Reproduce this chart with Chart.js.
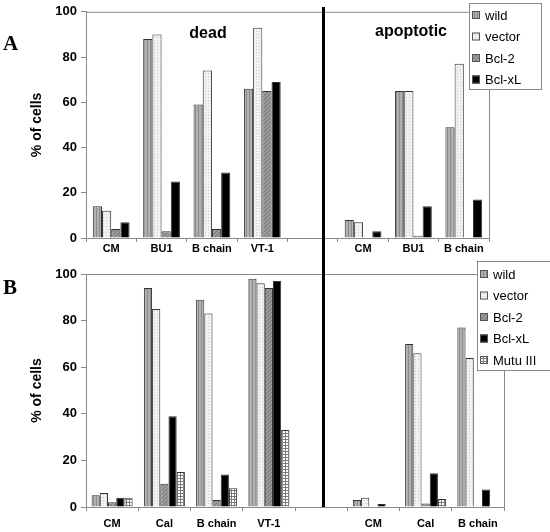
<!DOCTYPE html>
<html>
<head>
<meta charset="utf-8">
<script src="https://cdn.jsdelivr.net/npm/chart.js@4.4.1/dist/chart.umd.min.js"></script>
<style>
body { margin: 0; background: #fff; width: 550px; height: 532px; overflow: hidden; position: relative; }
#panelA { position: absolute; left: 0; top: 0; }
#panelB { position: absolute; left: 0; top: 256px; }
</style>
</head>
<body>
<canvas id="panelA" width="550" height="256"></canvas>
<canvas id="panelB" width="550" height="276"></canvas>
<script>
// Panel A: categorias (dead | hueco | apoptotic)
const categoriasA = ['CM', 'BU1', 'B chain', 'VT-1', '', 'CM', 'BU1', 'B chain'];
const deadWildA   = [14, 88, 59, 66];
const deadVectorA = [12, 90, 74, 93];
const deadBcl2A   = [4, 3, 4, 65];
const deadBclxlA  = [7, 25, 29, 69];
const apopWildA   = [8, 65, 49];
const apopVectorA = [7, 65, 77];
const apopBcl2A   = [0, 1, 0];
const apopBclxlA  = [3, 14, 17];

// Panel B
const categoriasB = ['CM', 'Cal', 'B chain', 'VT-1', '', 'CM', 'Cal', 'B chain'];
const deadWildB   = [5, 94, 89, 98];
const deadVectorB = [6, 85, 83, 96];
const deadBcl2B   = [2, 10, 3, 94];
const deadBclxlB  = [4, 39, 14, 97];
const deadMutuB   = [4, 15, 8, 33];
const apopWildB   = [3, 70, 77];
const apopVectorB = [4, 66, 64];
const apopBcl2B   = [0, 1.5, 0];
const apopBclxlB  = [1.3, 14.5, 7.5];
const apopMutuB   = [0, 3.4, 0];

const yTicks = [0, 20, 40, 60, 80, 100];

// patrones de relleno tipo escaneo
function patron(tam, fondo, dibujar) {
    const c = document.createElement('canvas');
    c.width = tam; c.height = tam;
    const g = c.getContext('2d');
    g.fillStyle = fondo;
    g.fillRect(0, 0, tam, tam);
    dibujar(g);
    return g.createPattern(c, 'repeat');
}
const pWild = patron(3, '#b0b0b0', g => { g.fillStyle = '#8c8c8c'; g.fillRect(0, 0, 1, 3); });
const pVector = patron(3, '#f2f2f2', g => { g.fillStyle = '#cacaca'; g.fillRect(1, 1, 1, 1); });
const pBcl2 = patron(4, '#9a9a9a', g => {
    g.fillStyle = '#747474';
    for (let i = 0; i < 4; i++) g.fillRect(i, 3 - i, 1, 1);
});
const pBclxl = '#000';
const pMutu = patron(3, '#fff', g => { g.fillStyle = '#7a7a7a'; g.fillRect(0, 0, 3, 1); g.fillRect(0, 0, 1, 3); });

function unir(dead, apop) {
    return [...dead, null, ...apop];
}

function serie(label, dead, apop, fill) {
    return {
        label: label,
        data: unir(dead, apop),
        backgroundColor: fill,
        borderColor: '#333',
        borderWidth: 1,
        barPercentage: 1
    };
}

const datosA = [
    serie('wild', deadWildA, apopWildA, pWild),
    serie('vector', deadVectorA, apopVectorA, pVector),
    serie('Bcl-2', deadBcl2A, apopBcl2A, pBcl2),
    serie('Bcl-xL', deadBclxlA, apopBclxlA, pBclxl)
];
const datosB = [
    serie('wild', deadWildB, apopWildB, pWild),
    serie('vector', deadVectorB, apopVectorB, pVector),
    serie('Bcl-2', deadBcl2B, apopBcl2B, pBcl2),
    serie('Bcl-xL', deadBclxlB, apopBclxlB, pBclxl),
    serie('Mutu III', deadMutuB, apopMutuB, pMutu)
];

// decoracion: marco, divisor, letra, titulos, leyenda
function decor(cfg) {
    return {
        id: 'decor',
        afterDatasetsDraw(chart) {
            const ctx = chart.ctx;
            const a = chart.chartArea;
            ctx.save();
            ctx.strokeStyle = '#8a8a8a';
            ctx.lineWidth = 1;
            ctx.beginPath();
            ctx.moveTo(a.left, a.top + 0.5);
            ctx.lineTo(a.right + 0.5, a.top + 0.5);
            ctx.lineTo(a.right + 0.5, a.bottom);
            ctx.stroke();

            // divisor vertical
            ctx.strokeStyle = '#000';
            ctx.lineWidth = 3;
            ctx.beginPath();
            ctx.moveTo(323.5, cfg.divTop);
            ctx.lineTo(323.5, cfg.divBottom);
            ctx.stroke();

            // letra del panel
            ctx.fillStyle = '#000';
            ctx.font = 'bold 21px "Liberation Serif", "Times New Roman", serif';
            ctx.textAlign = 'left';
            ctx.textBaseline = 'middle';
            ctx.fillText(cfg.letra, 3, cfg.letraY);

            ctx.font = 'bold 16px Arial, "Liberation Sans", sans-serif';
            ctx.textAlign = 'center';
            (cfg.titulos || []).forEach(t => ctx.fillText(t.text, t.x, t.y));

            // leyenda
            const L = cfg.leyenda;
            ctx.fillStyle = '#fff';
            ctx.fillRect(L.x, L.y, L.w, L.h);
            ctx.strokeStyle = '#8a8a8a';
            ctx.lineWidth = 1;
            ctx.strokeRect(L.x + 0.5, L.y + 0.5, L.w, L.h);
            ctx.font = '13px Arial, "Liberation Sans", sans-serif';
            ctx.textAlign = 'left';
            chart.data.datasets.forEach((ds, i) => {
                const cy = L.y + L.first + i * L.step;
                ctx.fillStyle = ds.backgroundColor;
                ctx.fillRect(L.x + 3, cy - 4, 8, 8);
                ctx.strokeStyle = '#555';
                ctx.strokeRect(L.x + 3.5, cy - 3.5, 7, 7);
                ctx.fillStyle = '#000';
                ctx.fillText(ds.label, L.x + 16, cy + 1);
            });
            ctx.restore();
        }
    };
}

function crearGrafico(id, labels, datasets, o) {
    const ctx = document.getElementById(id).getContext('2d');
    return new Chart(ctx, {
        type: 'bar',
        data: { labels: labels, datasets: datasets },
        options: {
            responsive: false,
            animation: false,
            datasets: { bar: { categoryPercentage: o.catPct } },
            layout: { padding: { top: o.top, right: o.right, left: 0, bottom: 0 } },
            plugins: { legend: { display: false }, tooltip: { enabled: false } },
            scales: {
                x: {
                    grid: { offset: true, drawOnChartArea: false, tickLength: 4, color: '#8a8a8a' },
                    border: { color: '#8a8a8a' },
                    ticks: {
                        color: '#000', maxRotation: 0, autoSkip: false, padding: o.labelPad,
                        font: { family: 'Arial, "Liberation Sans", sans-serif', size: 11, weight: 'bold' }
                    },
                    afterFit: s => { s.height = o.xHeight; }
                },
                y: {
                    min: 0, max: 100,
                    afterBuildTicks: s => { s.ticks = yTicks.map(v => ({ value: v })); },
                    grid: { drawOnChartArea: false, tickLength: 5, color: '#8a8a8a' },
                    border: { color: '#8a8a8a' },
                    ticks: {
                        color: '#000', padding: 4,
                        font: { family: 'Arial, "Liberation Sans", sans-serif', size: 13, weight: 'bold' }
                    },
                    title: {
                        display: true, text: '% of cells', color: '#000',
                        padding: { top: 29, bottom: 0 },
                        font: { family: 'Arial, "Liberation Sans", sans-serif', size: 14, weight: 'bold' }
                    },
                    afterFit: s => { s.width = 86; }
                }
            }
        },
        plugins: [decor(o.decor)]
    });
}

crearGrafico('panelA', categoriasA, datosA, {
    catPct: 0.73, top: 10, right: 61, xHeight: 18, labelPad: 0,
    decor: {
        divTop: 7, divBottom: 256, letra: 'A', letraY: 45,
        titulos: [{ text: 'dead', x: 208, y: 34 }, { text: 'apoptotic', x: 411, y: 32 }],
        leyenda: { x: 469, y: 3, w: 72, h: 86, first: 12, step: 21.5 }
    }
});

crearGrafico('panelB', categoriasB, datosB, {
    catPct: 0.785, top: 18, right: 46, xHeight: 25, labelPad: 6,
    decor: {
        divTop: 0, divBottom: 251, letra: 'B', letraY: 33,
        titulos: [],
        leyenda: { x: 477, y: 5, w: 80, h: 109, first: 13, step: 21.5 }
    }
});
</script>
</body>
</html>
